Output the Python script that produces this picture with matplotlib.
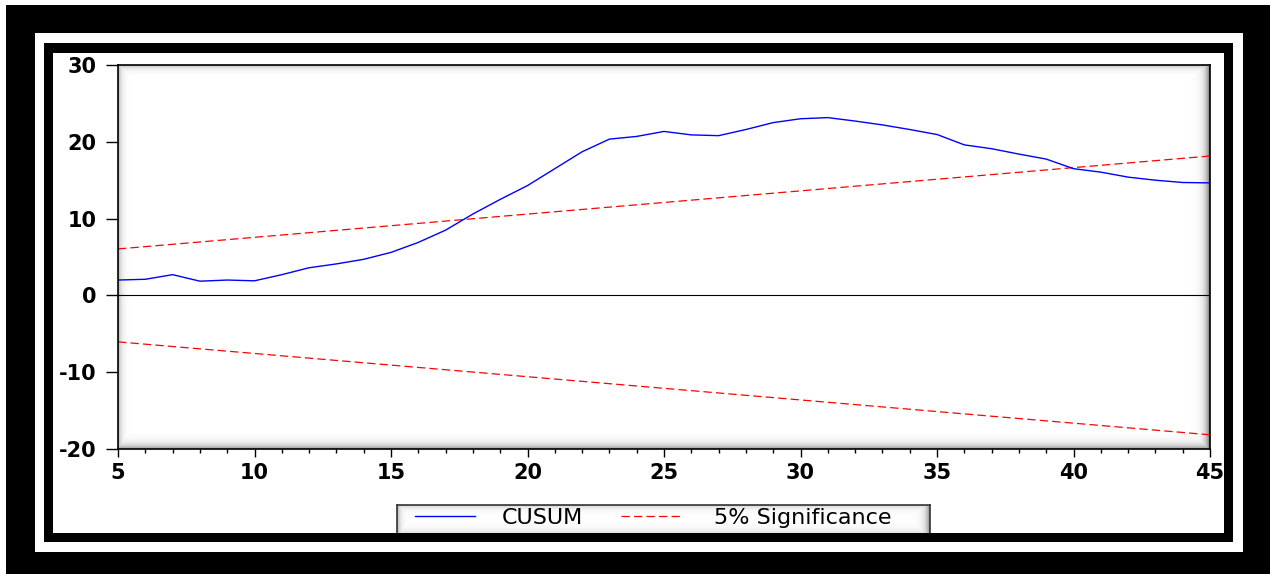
import numpy as np
import matplotlib
matplotlib.use("Agg")
import matplotlib.pyplot as plt
from matplotlib.patches import Rectangle
from matplotlib.ticker import MultipleLocator

plt.rcParams['font.family'] = ['DejaVu Sans']
plt.rcParams['lines.scale_dashes'] = False

# ---- data ----
obs = np.arange(5, 46)
cusum = [2.0, 2.1, 2.7, 1.85, 2.0, 1.9, 2.7, 3.6, 4.1, 4.7,
         5.6, 6.9, 8.5, 10.6, 12.5, 14.3, 16.5, 18.7, 20.35, 20.7,
         21.35, 20.9, 20.8, 21.6, 22.5, 23.0, 23.15, 22.7, 22.2, 21.6,
         20.95, 19.6, 19.1, 18.4, 17.75, 16.5, 16.05, 15.4, 15.0, 14.7,
         14.65]
bound_x = [5, 45]
upper = [6.05, 18.15]
lower = [-6.05, -18.15]
yticks = [-20, -10, 0, 10, 20, 30]
xticks = [5, 10, 15, 20, 25, 30, 35, 40, 45]

W, H = 1270, 574
fig = plt.figure(figsize=(W / 100, H / 100), dpi=100)
fig.patch.set_facecolor('white')

def px_rect(x0, y0, x1, y1, color, z):
    r = Rectangle((x0 / W, 1 - y1 / H), (x1 - x0) / W, (y1 - y0) / H,
                  transform=fig.transFigure, facecolor=color,
                  edgecolor='none', zorder=z)
    fig.add_artist(r)

def bevel(h, w, l, r, t, b):
    ii, jj = np.mgrid[0:h, 0:w]
    s = np.maximum.reduce([
        l * np.exp(-jj / 3.0),
        r * np.exp(-(w - 1 - jj) / 4.0),
        t * np.exp(-ii / 3.0),
        b * np.exp(-(h - 1 - ii) / 4.0),
    ])
    im = np.zeros((h, w, 4))
    im[..., 3] = s
    return im

# axes
ax = fig.add_axes([118 / W, 1 - 449 / H, (1210 - 118) / W, (449 - 65) / H])
ax.set_facecolor('white')
ax.imshow(bevel(384, 1092, 0.30, 0.55, 0.25, 0.40), extent=(0, 1, 0, 1),
          transform=ax.transAxes, aspect='auto', interpolation='bilinear',
          zorder=0.5)

ax.axhline(0, color='black', lw=0.8, zorder=1.5)
l_cusum, = ax.plot(obs, cusum, color='#0000FF', lw=1.0, label='CUSUM', zorder=3)
l_sig, = ax.plot(bound_x, upper, color='#FF0000', lw=0.9, dashes=(6, 3),
                 label='5% Significance', zorder=2.5)
ax.plot(bound_x, lower, color='#FF0000', lw=0.9, dashes=(6, 3), zorder=2.5)

ax.set_xlim(5, 45)
ax.set_ylim(-20, 30)
ax.set_xticks(xticks)
ax.set_xticklabels([str(t) for t in xticks])
ax.xaxis.set_minor_locator(MultipleLocator(1))
ax.set_yticks(yticks)
ax.set_yticklabels([str(t) for t in yticks])

for s in ax.spines.values():
    s.set_color('black')
    s.set_linewidth(1.2)
    s.set_zorder(4)

ax.tick_params(axis='y', which='major', direction='out', length=8.6,
               width=1.0, pad=7, labelsize=15, colors='black')
ax.tick_params(axis='x', which='major', direction='out', length=5.8,
               width=1.0, pad=4.0, labelsize=15, colors='black')
ax.tick_params(axis='x', which='minor', direction='out', length=2.9,
               width=1.0)
ax.tick_params(top=False, right=False)
for lab in ax.get_xticklabels() + ax.get_yticklabels():
    lab.set_fontweight('bold')

# legend box with bevel
lx0, ly0, lx1, ly1 = 397, 505, 930, 538
legax = fig.add_axes([lx0 / W, 1 - ly1 / H, (lx1 - lx0) / W, (ly1 - ly0) / H],
                     zorder=5)
legax.imshow(bevel(ly1 - ly0, lx1 - lx0, 0.30, 0.45, 0.25, 0.35),
             extent=(0, 1, 0, 1), aspect='auto', interpolation='bilinear')
legax.set_xlim(0, 1)
legax.set_ylim(0, 1)
legax.set_xticks([])
legax.set_yticks([])
for s in legax.spines.values():
    s.set_color('#333333')
    s.set_linewidth(1.2)

fs = 16
legy = 1 - 518 / H
leg1 = fig.legend([l_cusum], ['CUSUM'], loc='center left',
                  bbox_to_anchor=(415 / W, legy), bbox_transform=fig.transFigure,
                  frameon=False, fontsize=fs, handlelength=2.7,
                  handletextpad=1.2, borderpad=0, borderaxespad=0)
leg2 = fig.legend([l_sig], ['5% Significance'], loc='center left',
                  bbox_to_anchor=(621 / W, legy), bbox_transform=fig.transFigure,
                  frameon=False, fontsize=fs, handlelength=2.7,
                  handletextpad=1.5, borderpad=0, borderaxespad=0)
leg1.set_zorder(7)
leg2.set_zorder(7)

# black frame
z = 10
px_rect(6, 5, 35, 574, 'black', z)
px_rect(1243, 5, 1270, 574, 'black', z)
px_rect(6, 5, 1270, 33, 'black', z)
px_rect(6, 552, 1270, 574, 'black', z)
px_rect(44, 43, 53, 542, 'black', z)
px_rect(1224, 43, 1233, 542, 'black', z)
px_rect(44, 43, 1233, 53, 'black', z)
px_rect(44, 533, 1233, 542, 'black', z)

fig.savefig('out.png', dpi=100, facecolor='white')
